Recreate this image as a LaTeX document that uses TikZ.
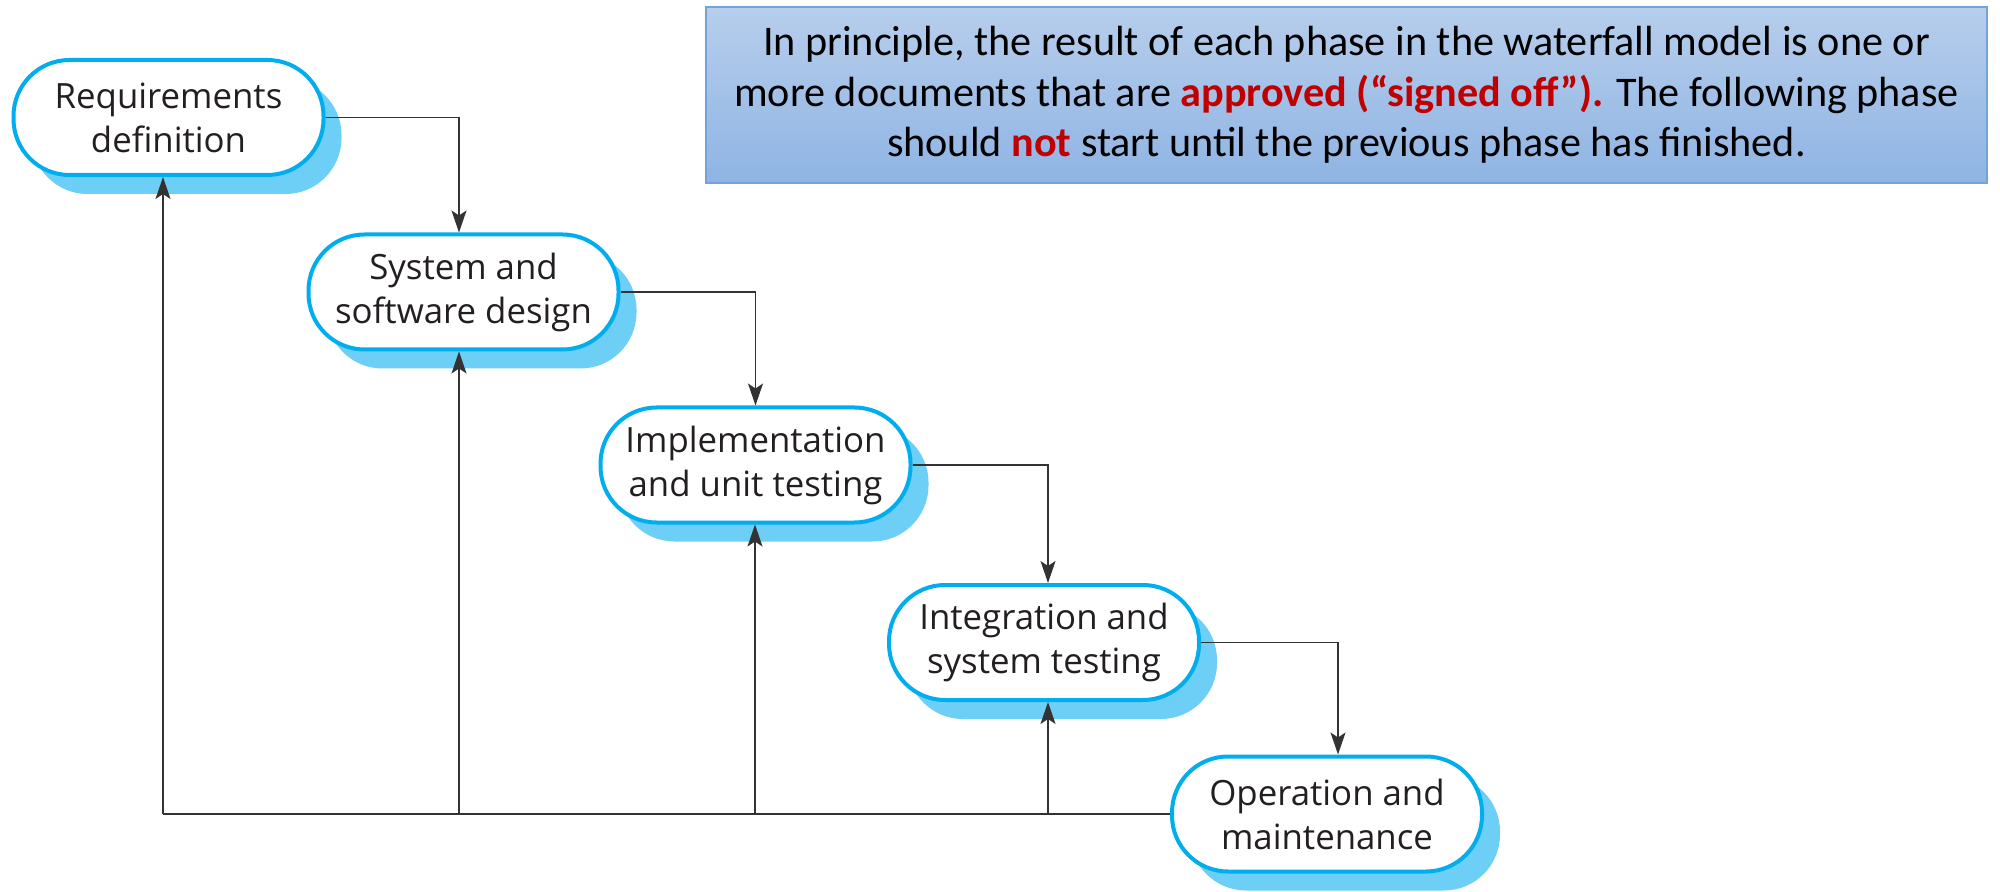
\documentclass[tikz,border=0pt]{standalone}
\usepackage{fontspec}
\setmainfont{Open Sans}
\newfontfamily\calfont{Carlito}
\usetikzlibrary{arrows.meta,shadows}
\definecolor{bordercyan}{HTML}{00AEEF}
\definecolor{shadowblue}{HTML}{6DCFF6}
\definecolor{txtdark}{HTML}{231F20}
\definecolor{notetop}{HTML}{B7CEEC}
\definecolor{notebot}{HTML}{8FB4E3}
\definecolor{noteborder}{HTML}{74A3DA}
\definecolor{redtxt}{HTML}{C00000}
\begin{document}
\begin{tikzpicture}[x=0.5pt,y=-0.5pt,
  phase/.style={draw=bordercyan, line width=2pt, fill=white, rounded corners=28pt,
    minimum width=155pt, minimum height=57.5pt, align=center, inner sep=0pt,
    font=\fontsize{17.4}{22}\selectfont, text=txtdark,
    drop shadow={shadow xshift=9pt, shadow yshift=-9.5pt, fill=shadowblue, opacity=1}},
  conn/.style={draw=black!80, line width=0.7pt},
  arr/.style={conn, -{Stealth[length=11pt,width=7.5pt,inset=2.5pt]}}
]
\useasboundingbox (0,0) rectangle (2000,892);

\node[draw=noteborder, line width=0.7pt, top color=notetop, bottom color=notebot,
  minimum width=640.5pt, minimum height=88pt, align=center, inner sep=0pt,
  font=\calfont\fontsize{21.1}{25.25}\selectfont] (note) at (1346.5,95)
  {In principle, the result of each phase in the waterfall model is one or\\
   more documents that are \textcolor{redtxt}{\textbf{approved (“signed off”).}} The following phase\\
   should \textcolor{redtxt}{\textbf{not}} start until the previous phase has finished.};

\node[phase] (b1) at (168.5,117.5) {Requirements\\definition};
\node[phase] (b2) at (463.5,292) {System and\\software design};
\node[phase] (b3) at (755.5,465) {Implementation\\and unit testing};
\node[phase] (b4) at (1044,642.5) {Integration and\\system testing};
\node[phase] (b5) at (1327,814) {Operation and\\maintenance};

\draw[arr] (b1.east) -| ([xshift=-2.25pt]b2.north);
\draw[arr] (b2.east) -| (b3.north);
\draw[arr] (b3.east) -| ([xshift=2pt]b4.north);
\draw[arr] (b4.east) -| ([xshift=5.5pt]b5.north);

\coordinate (f1) at (163,814);
\coordinate (f2) at (459,814);
\coordinate (f3) at (755,814);
\coordinate (f4) at (1048,814);
\draw[conn] (b5.west) -- (f1);
\draw[arr] (f1) -- (f1 |- b1.south);
\draw[arr] (f2) -- (f2 |- b2.south);
\draw[arr] (f3) -- (f3 |- b3.south);
\draw[arr] (f4) -- (f4 |- b4.south);
\end{tikzpicture}
\end{document}
